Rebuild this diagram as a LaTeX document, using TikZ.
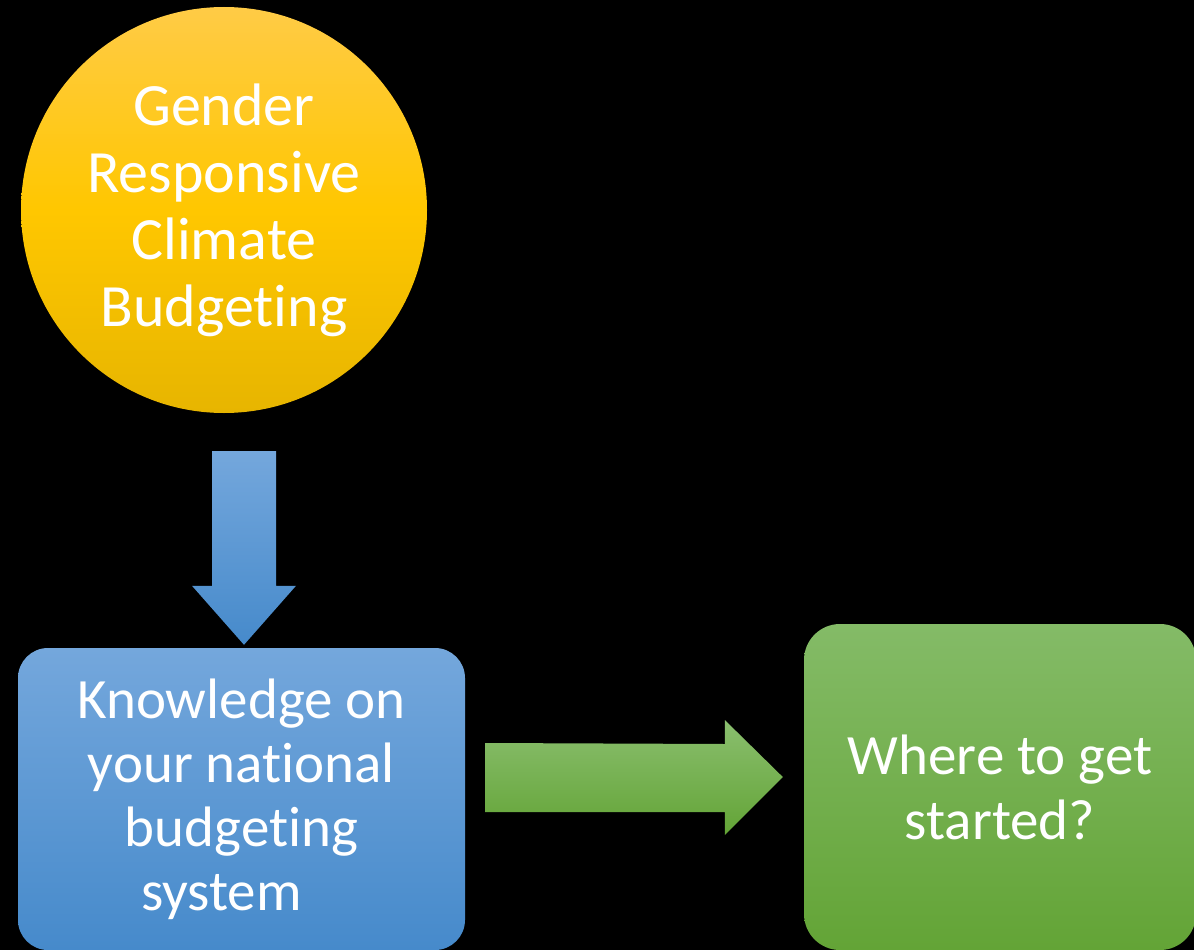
\documentclass[tikz,border=0pt]{standalone}
\usepackage{fontspec}
\setmainfont{Carlito}[Ligatures=NoCommon]
\usetikzlibrary{calc}

\definecolor{sunTop}{RGB}{255,203,70}
\definecolor{sunMid}{RGB}{255,199,0}
\definecolor{sunBot}{RGB}{231,181,0}
\definecolor{skyTop}{RGB}{116,167,220}
\definecolor{skyBot}{RGB}{70,138,203}
\definecolor{leafTop}{RGB}{132,187,103}
\definecolor{leafBot}{RGB}{99,164,54}

\begin{document}
\begin{tikzpicture}[x=1pt,y=1pt,
    txt/.style = {text=white, align=center, inner sep=0pt},
    goal/.style = {txt, circle, minimum size=406pt, top color=sunTop, bottom color=sunBot, middle color=sunMid, font=\fontsize{60}{67}\selectfont},
    bluebox/.style = {txt, rectangle, rounded corners=30pt, minimum width=447pt, minimum height=302pt, top color=skyTop, bottom color=skyBot, font=\fontsize{57}{64}\selectfont},
    greenbox/.style = {txt, rectangle, rounded corners=36pt, minimum width=392pt, minimum height=326pt, top color=leafTop, bottom color=leafBot, font=\fontsize{57}{65}\selectfont},
    bluearrow/.style = {top color=skyTop, bottom color=skyBot},
    greenarrow/.style = {top color=leafTop!95!white, bottom color=leafBot}]
    \fill[black] (0,0) rectangle (1194,-950);
    \clip (0,0) rectangle (1194,-950);

    \node[goal] (grcb) at (224,-210) {Gender\\Responsive\\Climate\\Budgeting};
    \node[bluebox] (know) at (241.5,-799) {Knowledge on\\your national\\budgeting\\system\rule{40pt}{0pt}};
    \node[greenbox] (start) at (1000,-787) {Where to get\\started?};

    % block arrows
    \coordinate (dtop) at ($(grcb.south)+(20,-38)$);
    \coordinate (dtip) at ($(know.north)+(2.5,3)$);
    \shade[bluearrow] ($(dtop)+(-32,0)$) -- ($(dtop)+(32,0)$) -- ($(dtip)+(32,59)$) -- ($(dtip)+(52,59)$)
        -- (dtip) -- ($(dtip)+(-52,59)$) -- ($(dtip)+(-32,59)$) -- cycle;
    \coordinate (rtail) at ($(know.east)+(20,21)$);
    \coordinate (rtip) at ($(start.west)+(-21,10)$);
    \shade[greenarrow] ($(rtail)+(0,35)$) -- ($(rtip)+(-58,33)$) -- ($(rtip)+(-58,57)$) -- (rtip)
        -- ($(rtip)+(-58,-58)$) -- ($(rtip)+(-58,-35)$) -- ($(rtail)+(0,-34)$) -- cycle;
\end{tikzpicture}
\end{document}
